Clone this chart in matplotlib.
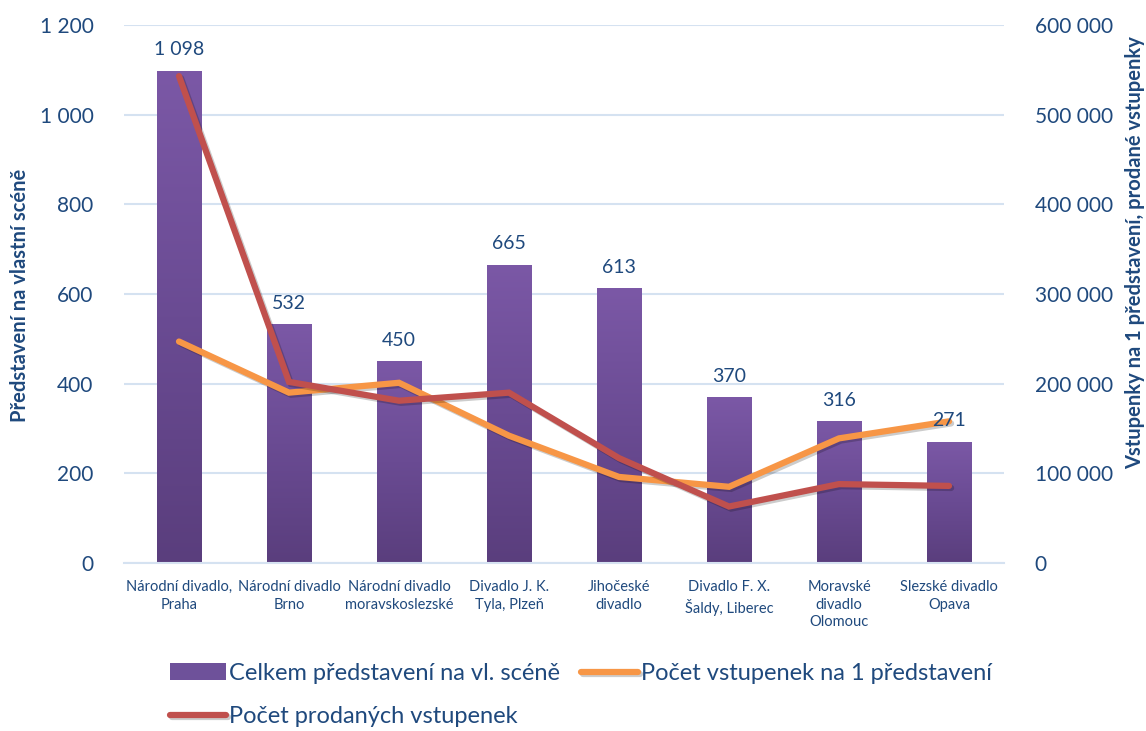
import matplotlib
matplotlib.use("Agg")
import matplotlib.pyplot as plt
import matplotlib.patheffects as pe
import numpy as np
from matplotlib.ticker import FuncFormatter, MultipleLocator
from matplotlib.colors import LinearSegmentedColormap

plt.rcParams['font.family'] = ['Lato', 'DejaVu Sans']

# data
divadla = ['Národní divadlo,\nPraha', 'Národní divadlo\nBrno', 'Národní divadlo\nmoravskoslezské',
           'Divadlo J. K.\nTyla, Plzeň', 'Jihočeské\ndivadlo', 'Divadlo F. X.\nŠaldy, Liberec',
           'Moravské\ndivadlo\nOlomouc', 'Slezské divadlo\nOpava']
predstaveni = [1098, 532, 450, 665, 613, 370, 316, 271]
vstupenky_na_predstaveni = [494, 380, 402, 284, 192, 170, 278, 316]
prodane_vstupenky = [543000, 202000, 181000, 190000, 117000, 63000, 88000, 86000]

text_col = '#1F497D'
grid_col = '#D5E2F1'

def mezera(v, pos=None):
    return f'{int(round(v)):,}'.replace(',', ' ')

fig = plt.figure(figsize=(11.46, 7.31), dpi=100)
ax = fig.add_axes([0.1082, 0.2298, 0.7679, 0.736])
ax2 = ax.twinx()

x = np.arange(len(divadla))
bars = ax.bar(x, predstaveni, width=0.4, color='#6E519A', zorder=2)

# vertical gradient on the bars
grad = LinearSegmentedColormap.from_list('fial', ['#5A3E7D', '#6A4B93', '#7B58A6'])
g = np.linspace(0, 1, 256).reshape(-1, 1)
for b in bars:
    bx, by = b.get_x(), b.get_y()
    im = ax.imshow(g, cmap=grad, origin='lower', aspect='auto', zorder=2.1,
                   extent=[bx, bx + b.get_width(), by, by + b.get_height()])
    im.set_clip_path(b)

for xi, v in zip(x, predstaveni):
    ax.text(xi, v + 28, mezera(v), ha='center', va='bottom', fontsize=14,
            color=text_col, zorder=6)

stin = [pe.SimpleLineShadow(offset=(1.5, -1.5), alpha=0.2), pe.Normal()]
oranz, = ax.plot(x, vstupenky_na_predstaveni, color='#F79646', lw=4.5, zorder=4,
                 solid_capstyle='round', solid_joinstyle='miter', path_effects=stin)
cerv, = ax2.plot(x, prodane_vstupenky, color='#C0504D', lw=4.5, zorder=4,
                 solid_capstyle='round', solid_joinstyle='miter', path_effects=stin)

ax.set_xlim(-0.5, 7.5)
ax.set_ylim(0, 1200)
ax2.set_ylim(0, 600000)
ax.yaxis.set_major_locator(MultipleLocator(200))
ax2.yaxis.set_major_locator(MultipleLocator(100000))
ax.yaxis.set_major_formatter(FuncFormatter(mezera))
ax2.yaxis.set_major_formatter(FuncFormatter(mezera))
ax.grid(axis='y', color=grid_col, lw=1.5, zorder=0)
ax.set_axisbelow(True)

for a in (ax, ax2):
    for s in a.spines.values():
        s.set_visible(False)
ax.spines['bottom'].set_visible(True)
ax.spines['bottom'].set_color(grid_col)
ax.spines['bottom'].set_linewidth(1.5)

ax.set_xticks(x)
ax.set_xticklabels(divadla, fontsize=10.5, color=text_col, linespacing=1.35)
ax.tick_params(axis='x', length=0, pad=12)
ax.tick_params(axis='y', length=0, pad=22, labelsize=15, labelcolor=text_col)
ax2.tick_params(axis='y', length=0, pad=22, labelsize=15, labelcolor=text_col)

fig.text(0.0175, 0.596, 'Představení na vlastní scéně', rotation=90, ha='center', va='center',
         fontsize=14.5, fontweight='bold', color=text_col)
fig.text(0.9904, 0.654, 'Vstupenky na 1 představení, prodané vstupenky', rotation=90,
         ha='center', va='center', fontsize=14.5, fontweight='bold', color=text_col)

# column-first order: bars + red in column 1, orange in column 2
handles = [bars, cerv, oranz]
labels = ['Celkem představení na vl. scéně', 'Počet prodaných vstupenek',
          'Počet vstupenek na 1 představení']
leg = fig.legend(handles, labels, loc='upper left', bbox_to_anchor=(0.148, 0.093), ncol=2,
                 frameon=False, fontsize=17, handlelength=2.4, handletextpad=0.12,
                 columnspacing=0.9, labelspacing=0.95, borderaxespad=0, borderpad=0)
for t in leg.get_texts():
    t.set_color(text_col)

fig.savefig('out.png', dpi=100)
